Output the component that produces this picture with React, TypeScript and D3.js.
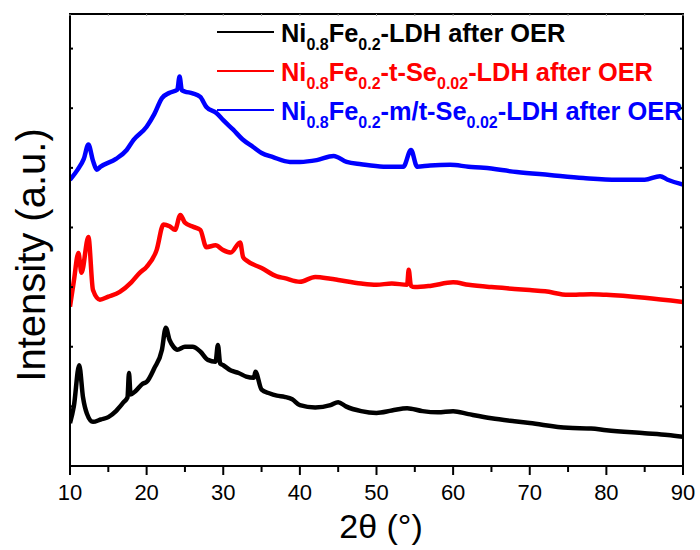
import React from "react";
import * as d3 from "d3";

// ---- data ----
const xTicks = [10, 20, 30, 40, 50, 60, 70, 80, 90];
const xMinorTicks = [15, 25, 35, 45, 55, 65, 75, 85];
const yTicks = [1, 2, 3, 4, 5, 6, 7];

const blackAngle = [10, 10.5, 11.2, 11.7, 12.2, 13, 14, 15, 16, 17, 17.5, 17.7, 17.9, 18.5, 19.5, 20, 21, 22, 22.5, 23, 23.5, 24, 25, 26, 27, 28, 29, 29.3, 29.6, 30, 31, 32, 33, 34, 34.2, 35, 36, 37, 38, 39, 40, 42, 44, 45, 46, 48, 50, 52, 54, 56, 58, 60, 62, 65, 68, 70, 75, 78, 80, 85, 88, 90];
const blackIntensity = [0.72, 1.0, 1.69, 1.15, 0.88, 0.74, 0.78, 0.82, 0.92, 1.07, 1.15, 1.56, 1.2, 1.25, 1.38, 1.41, 1.64, 1.95, 2.32, 2.11, 2.0, 1.95, 2.0, 2.0, 1.92, 1.78, 1.75, 2.03, 1.72, 1.69, 1.6, 1.56, 1.5, 1.48, 1.58, 1.28, 1.22, 1.18, 1.16, 1.12, 1.02, 0.98, 1.02, 1.07, 1.0, 0.92, 0.89, 0.93, 0.97, 0.92, 0.9, 0.92, 0.87, 0.8, 0.75, 0.72, 0.64, 0.63, 0.6, 0.55, 0.52, 0.49];

const redAngle = [10, 10.5, 11.1, 11.5, 12.4, 13.0, 13.9, 15, 16.5, 18, 19.1, 20, 21.3, 22.2, 23, 23.7, 24.4, 25, 26.1, 27, 27.8, 29, 30, 31, 32.2, 32.6, 33, 35, 37, 38, 40, 42, 44, 45, 48, 50, 52, 54, 54.2, 54.5, 55, 57, 60, 62, 65, 68, 70, 72, 75, 78, 80, 85, 90];
const redIntensity = [2.67, 3.1, 3.57, 3.24, 3.84, 2.95, 2.79, 2.84, 2.92, 3.08, 3.24, 3.34, 3.62, 4.05, 4.02, 3.96, 4.21, 4.08, 4.01, 3.96, 3.67, 3.7, 3.62, 3.58, 3.75, 3.5, 3.45, 3.32, 3.18, 3.15, 3.09, 3.17, 3.14, 3.12, 3.06, 3.04, 3.06, 3.04, 3.29, 3.02, 3.0, 3.02, 3.08, 3.04, 3.0, 2.97, 2.95, 2.93, 2.87, 2.88, 2.87, 2.82, 2.75];

const blueAngle = [10, 11, 11.8, 12.4, 13.0, 13.5, 14, 16, 17.4, 18.3, 20, 21, 22, 23, 24, 24.3, 24.6, 25, 26, 27, 27.8, 29.1, 30, 31.3, 32.5, 33.9, 35, 36.5, 38.7, 40, 42.2, 44.4, 46.1, 48, 50.9, 53.5, 54.5, 55.3, 57, 59.6, 62, 64, 68.3, 72.6, 77, 81.4, 85, 87, 88, 90];
const blueIntensity = [4.8, 4.97, 5.15, 5.39, 5.12, 4.97, 5.02, 5.15, 5.3, 5.47, 5.69, 5.9, 6.17, 6.26, 6.31, 6.53, 6.3, 6.28, 6.25, 6.19, 6.02, 5.92, 5.8, 5.64, 5.48, 5.35, 5.25, 5.18, 5.1, 5.1, 5.13, 5.2, 5.1, 5.06, 5.02, 5.02, 5.3, 5.02, 5.04, 5.05, 5.02, 5.0, 4.93, 4.88, 4.83, 4.8, 4.8, 4.86, 4.8, 4.72];

const seriesColors = ["#000000", "#ff0000", "#0000ff"];
const legendMain = ["-LDH after OER", "-t-Se", "-m/t-Se"];

const W = 700, H = 550;
const M = { left: 70, right: 683, top: 14, bottom: 466 };

export default function App() {
  const x = d3.scaleLinear().domain([10, 90]).range([M.left, M.right]);
  const y = d3.scaleLinear().domain([0, 7.58]).range([M.bottom, M.top]);
  const line = d3
    .line<[number, number]>()
    .x((d) => x(d[0]))
    .y((d) => y(d[1]))
    .curve(d3.curveMonotoneX);

  const series = [
    { a: blackAngle, v: blackIntensity, c: seriesColors[0] },
    { a: redAngle, v: redIntensity, c: seriesColors[1] },
    { a: blueAngle, v: blueIntensity, c: seriesColors[2] },
  ];

  const font = "Arial, 'Liberation Sans', Helvetica, sans-serif";
  const legendY = [32, 71, 110];
  const subSize = 16;

  const legendLabel = (i: number) => {
    const parts: React.ReactNode[] = [
      <tspan key="a">Ni</tspan>,
      <tspan key="b" dy={8} fontSize={subSize}>0.8</tspan>,
      <tspan key="c" dy={-8}>Fe</tspan>,
      <tspan key="d" dy={8} fontSize={subSize}>0.2</tspan>,
    ];
    if (i === 0) {
      parts.push(<tspan key="e" dy={-8}>-LDH after OER</tspan>);
    } else {
      parts.push(<tspan key="e" dy={-8}>{legendMain[i]}</tspan>);
      parts.push(<tspan key="f" dy={8} fontSize={subSize}>0.02</tspan>);
      parts.push(<tspan key="g" dy={-8}>-LDH after OER</tspan>);
    }
    return parts;
  };

  return (
    <svg width={W} height={H} style={{ position: "absolute", left: 0, top: 0 }}>
      <rect width={W} height={H} fill="#fff" />
      <defs>
        <clipPath id="plot">
          <rect x={M.left} y={M.top} width={M.right - M.left} height={M.bottom - M.top} />
        </clipPath>
      </defs>
      {/* series */}
      <g clipPath="url(#plot)">
        {series.map((s, i) => (
          <path
            key={i}
            d={line(s.a.map((a, j) => [a, s.v[j]] as [number, number])) || ""}
            fill="none"
            stroke={s.c}
            strokeWidth={4.5}
            strokeLinejoin="round"
          />
        ))}
      </g>
      {/* frame */}
      <rect x={M.left} y={M.top} width={M.right - M.left} height={M.bottom - M.top} fill="none" stroke="#000" strokeWidth={2} />
      {/* bottom ticks */}
      {xTicks.map((t) => (
        <g key={t}>
          <line x1={x(t)} x2={x(t)} y1={M.bottom} y2={M.bottom + 9} stroke="#000" strokeWidth={2} />
          <line x1={x(t)} x2={x(t)} y1={M.top} y2={M.top + 2} stroke="#999" strokeWidth={1} />
          <text x={x(t)} y={500} textAnchor="middle" fontFamily={font} fontSize={22} fill="#000">
            {t}
          </text>
        </g>
      ))}
      {xMinorTicks.map((t) => (
        <g key={t}>
          <line x1={x(t)} x2={x(t)} y1={M.bottom} y2={M.bottom + 6} stroke="#000" strokeWidth={2} />
          <line x1={x(t)} x2={x(t)} y1={M.top} y2={M.top + 2} stroke="#999" strokeWidth={1} />
        </g>
      ))}
      {yTicks.map((t) => (
        <g key={t}>
          <line x1={M.left} x2={M.left + 3} y1={y(t)} y2={y(t)} stroke="#000" strokeWidth={2} />
          <line x1={M.right} x2={M.right - 3} y1={y(t)} y2={y(t)} stroke="#000" strokeWidth={2} />
        </g>
      ))}
      {/* legend */}
      {series.map((s, i) => (
        <g key={i}>
          <line x1={217} x2={274} y1={legendY[i]} y2={legendY[i]} stroke={s.c} strokeWidth={2} />
          <text x={281} y={legendY[i] + 10} fontFamily={font} fontWeight="bold" fontSize={25.4} fill={s.c}>
            {legendLabel(i)}
          </text>
        </g>
      ))}
      {/* axis titles */}
      <text x={381} y={538} textAnchor="middle" fontFamily={font} fontSize={34} fill="#000">
        2θ (°)
      </text>
      <text
        transform={`translate(45,255) rotate(-90)`}
        textAnchor="middle"
        fontFamily={font}
        fontSize={40}
        fill="#000"
      >
        Intensity (a.u.)
      </text>
    </svg>
  );
}
